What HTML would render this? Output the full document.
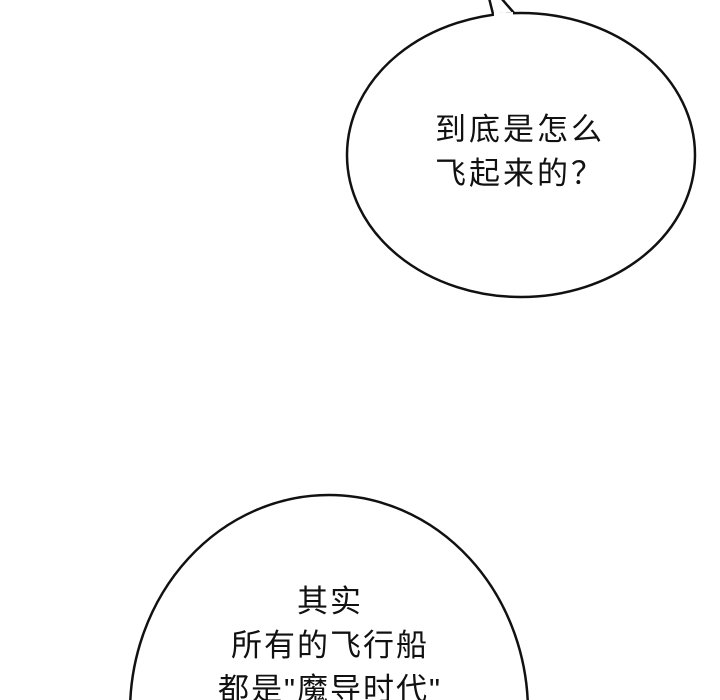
<!DOCTYPE html>
<html><head><meta charset="utf-8"><style>
html,body{margin:0;padding:0;background:#fff;width:720px;height:700px;overflow:hidden}
#w{position:relative;width:720px;height:700px;overflow:hidden}
svg{position:absolute;left:0;top:0}
.t{position:absolute;font-family:"Liberation Sans","Noto Sans CJK SC",sans-serif;font-size:31px;line-height:44px;color:#111;text-align:center;letter-spacing:2px;white-space:nowrap}
</style></head><body><div id="w">
<svg width="720" height="700" viewBox="0 0 720 700">
<path d="M493,14 L489,-2 L501,-2 L514,13" fill="#fff" stroke="#111" stroke-width="2.5"/>
<ellipse cx="521" cy="155" rx="174" ry="142" fill="none" stroke="#111" stroke-width="2.5"/>
<path d="M494,15 L513,14" stroke="#fff" stroke-width="4"/>
<ellipse cx="329" cy="712" rx="199" ry="217" fill="#fff" stroke="#111" stroke-width="2.5"/>
</svg>
<div class="t" style="left:420px;width:200px;top:108px;letter-spacing:3px">到底是怎么<br>飞起来的？</div>
<div class="t" style="left:180px;width:300px;top:580px;height:120px;overflow:hidden">其实<br>所有的飞行船<br>都是"魔导时代"</div>
</div></body></html>
